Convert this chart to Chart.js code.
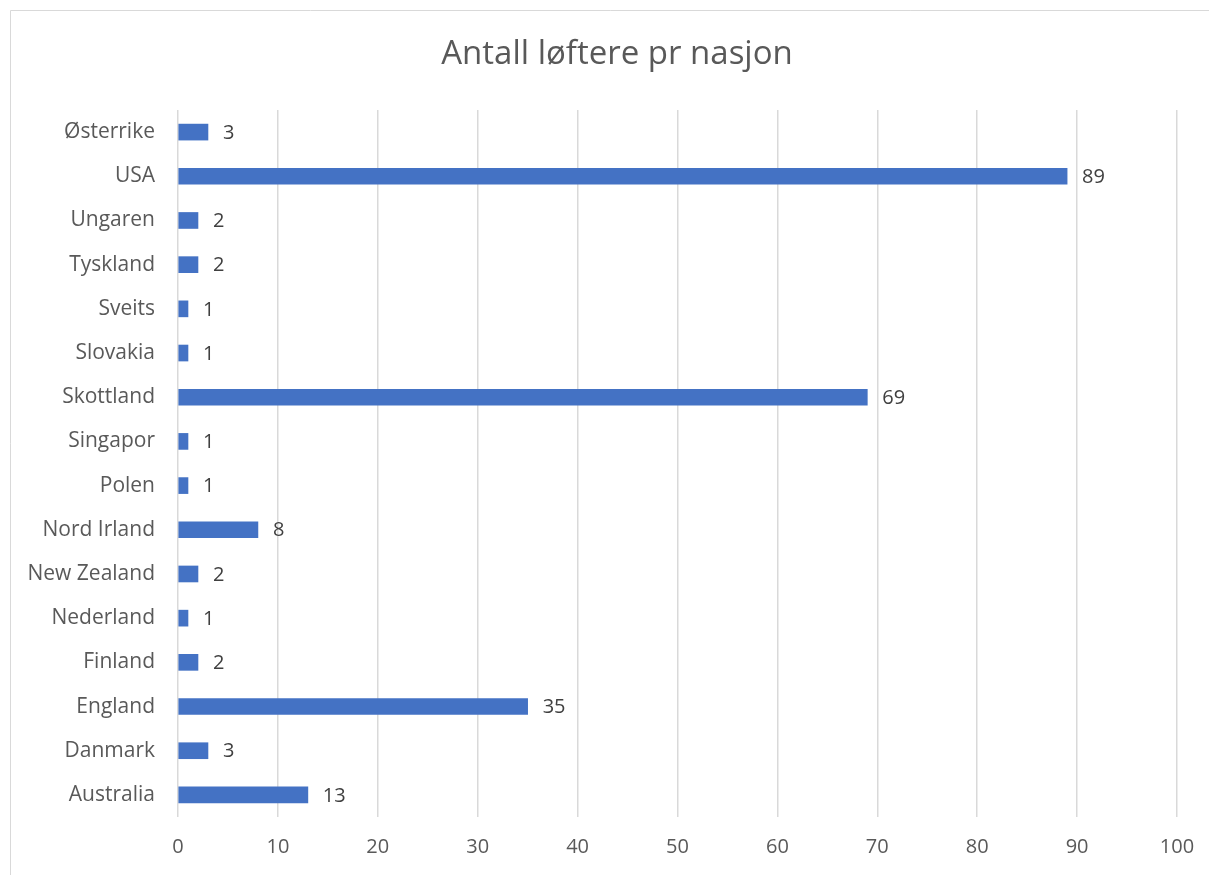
<!DOCTYPE html>
<html>
<head>
<meta charset="utf-8">
<script src="https://cdn.jsdelivr.net/npm/chart.js@4.4.1/dist/chart.umd.min.js"></script>
<style>
  html, body { margin: 0; padding: 0; background: #fff; }
  #wrap { width: 1209px; height: 875px; }
</style>
</head>
<body>
<div id="wrap"><canvas id="lofterChart" width="1209" height="875"></canvas></div>
<script>
// Kategorier vist ovenfra og ned
const nations = ['Østerrike', 'USA', 'Ungaren', 'Tyskland', 'Sveits', 'Slovakia', 'Skottland', 'Singapor',
    'Polen', 'Nord Irland', 'New Zealand', 'Nederland', 'Finland', 'England', 'Danmark', 'Australia'];
const lifters = [3, 89, 2, 2, 1, 1, 69, 1, 1, 8, 2, 1, 2, 35, 3, 13];
const xTicks = [0, 10, 20, 30, 40, 50, 60, 70, 80, 90, 100];
const chartTitle = 'Antall løftere pr nasjon';

const FONT = '"Open Sans", "Noto Sans", sans-serif';

// verdier til høyre for søylene
const valueLabels = {
    id: 'valueLabels',
    afterDatasetsDraw(chart) {
        const ctx = chart.ctx;
        const meta = chart.getDatasetMeta(0);
        ctx.save();
        ctx.font = '20px ' + FONT;
        ctx.fillStyle = '#404040';
        ctx.textAlign = 'left';
        ctx.textBaseline = 'middle';
        meta.data.forEach((bar, i) => {
            ctx.fillText(String(lifters[i]), bar.x + 15, bar.y + 1);
        });
        ctx.restore();
    }
};

// ramme og tittel (sentrert over hele diagramrammen)
const frame = {
    id: 'frame',
    beforeDraw(chart) {
        const ctx = chart.ctx;
        ctx.save();
        ctx.fillStyle = '#fff';
        ctx.fillRect(0, 0, chart.width, chart.height);
        ctx.strokeStyle = '#d9d9d9';
        ctx.lineWidth = 1;
        ctx.beginPath();
        ctx.moveTo(10.5, chart.height + 5);
        ctx.lineTo(10.5, 10.5);
        ctx.lineTo(chart.width + 5, 10.5);
        ctx.stroke();
        ctx.font = '33px ' + FONT;
        ctx.fillStyle = '#595959';
        ctx.textAlign = 'center';
        ctx.textBaseline = 'middle';
        ctx.fillText(chartTitle, 617, 55);
        ctx.restore();
    }
};

const ctx = document.getElementById('lofterChart').getContext('2d');
const lofterChart = new Chart(ctx, {
    type: 'bar',
    data: {
        labels: nations,
        datasets: [{
            label: 'Antall løftere',
            data: lifters,
            backgroundColor: '#4472C4',
            borderColor: '#4472C4',
            borderWidth: 0,
            barThickness: 16
        }]
    },
    options: {
        indexAxis: 'y',
        responsive: false,
        animation: false,
        layout: { padding: { left: 0, right: 32, top: 110, bottom: 0 } },
        plugins: {
            legend: { display: false },
            tooltip: { enabled: false },
            title: { display: false }
        },
        scales: {
            x: {
                min: 0,
                max: 100,
                afterBuildTicks(scale) {
                    scale.ticks = xTicks.map(v => ({ value: v }));
                },
                afterFit(scale) {
                    scale.height = 58;
                    scale.paddingLeft = 0;
                    scale.paddingRight = 0;
                },
                grid: { color: '#d9d9d9', lineWidth: 1.5, drawTicks: false },
                border: { display: false },
                ticks: {
                    color: '#595959',
                    padding: 18,
                    font: { family: FONT, size: 20 }
                }
            },
            y: {
                afterFit(scale) {
                    scale.width = 178;
                    scale.paddingTop = 0;
                    scale.paddingBottom = 0;
                },
                grid: { display: false, drawTicks: false },
                border: { display: false },
                ticks: {
                    color: '#595959',
                    padding: 23,
                    font: { family: FONT, size: 21 }
                }
            }
        }
    },
    plugins: [frame, valueLabels]
});
</script>
</body>
</html>
